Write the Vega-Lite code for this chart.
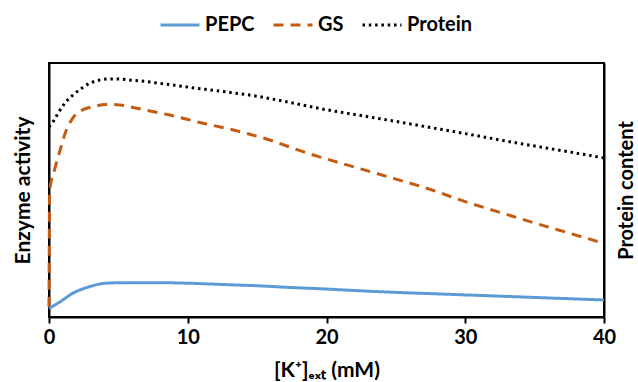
{
  "$schema": "https://vega.github.io/schema/vega-lite/v6.json",
  "width": 555,
  "height": 254,
  "autosize": "none",
  "padding": {"left": 49, "top": 63, "right": 34, "bottom": 65},
  "background": "white",
  "config": {
    "font": "Lato",
    "view": {"stroke": "black", "strokeWidth": 2},
    "axis": {"grid": false, "zindex": 1}
  },
  "data": {
    "values": [
      {"x": 0, "v": 3.4, "series": "PEPC"},
      {"x": 0.8, "v": 6.0, "series": "PEPC"},
      {"x": 1.7, "v": 9.3, "series": "PEPC"},
      {"x": 2.9, "v": 11.9, "series": "PEPC"},
      {"x": 4.1, "v": 13.3, "series": "PEPC"},
      {"x": 5.3, "v": 13.5, "series": "PEPC"},
      {"x": 6.5, "v": 13.5, "series": "PEPC"},
      {"x": 8, "v": 13.5, "series": "PEPC"},
      {"x": 10, "v": 13.3, "series": "PEPC"},
      {"x": 12.5, "v": 12.8, "series": "PEPC"},
      {"x": 15, "v": 12.3, "series": "PEPC"},
      {"x": 17.5, "v": 11.6, "series": "PEPC"},
      {"x": 20, "v": 11.0, "series": "PEPC"},
      {"x": 22.5, "v": 10.3, "series": "PEPC"},
      {"x": 25, "v": 9.7, "series": "PEPC"},
      {"x": 27.5, "v": 9.2, "series": "PEPC"},
      {"x": 30, "v": 8.7, "series": "PEPC"},
      {"x": 32.5, "v": 8.2, "series": "PEPC"},
      {"x": 35, "v": 7.7, "series": "PEPC"},
      {"x": 37.5, "v": 7.2, "series": "PEPC"},
      {"x": 40, "v": 6.7, "series": "PEPC"},
      {"x": 0, "v": 4, "series": "GS"},
      {"x": 0.05, "v": 50, "series": "GS"},
      {"x": 0.4, "v": 57.9, "series": "GS"},
      {"x": 0.8, "v": 65.7, "series": "GS"},
      {"x": 1.25, "v": 73.6, "series": "GS"},
      {"x": 1.7, "v": 78.2, "series": "GS"},
      {"x": 2.4, "v": 81.5, "series": "GS"},
      {"x": 3.2, "v": 82.8, "series": "GS"},
      {"x": 4.1, "v": 83.7, "series": "GS"},
      {"x": 5.1, "v": 83.5, "series": "GS"},
      {"x": 6.3, "v": 82.2, "series": "GS"},
      {"x": 8.7, "v": 79.5, "series": "GS"},
      {"x": 11.1, "v": 76.3, "series": "GS"},
      {"x": 13.3, "v": 73.6, "series": "GS"},
      {"x": 15.9, "v": 69.7, "series": "GS"},
      {"x": 18.3, "v": 65.1, "series": "GS"},
      {"x": 20.7, "v": 61.1, "series": "GS"},
      {"x": 22.6, "v": 58.1, "series": "GS"},
      {"x": 25, "v": 54.3, "series": "GS"},
      {"x": 27.5, "v": 50.2, "series": "GS"},
      {"x": 30, "v": 45.4, "series": "GS"},
      {"x": 32.5, "v": 41.2, "series": "GS"},
      {"x": 35, "v": 37.0, "series": "GS"},
      {"x": 37.5, "v": 33.0, "series": "GS"},
      {"x": 40, "v": 29.0, "series": "GS"},
      {"x": 0, "v": 74.8, "series": "Protein"},
      {"x": 0.3, "v": 76.9, "series": "Protein"},
      {"x": 0.65, "v": 80.2, "series": "Protein"},
      {"x": 1.13, "v": 84.1, "series": "Protein"},
      {"x": 1.73, "v": 87.4, "series": "Protein"},
      {"x": 2.34, "v": 90.0, "series": "Protein"},
      {"x": 2.93, "v": 92.0, "series": "Protein"},
      {"x": 3.66, "v": 93.3, "series": "Protein"},
      {"x": 4.25, "v": 93.7, "series": "Protein"},
      {"x": 5, "v": 93.7, "series": "Protein"},
      {"x": 5.8, "v": 93.3, "series": "Protein"},
      {"x": 6.5, "v": 93.0, "series": "Protein"},
      {"x": 8, "v": 92.0, "series": "Protein"},
      {"x": 10, "v": 90.5, "series": "Protein"},
      {"x": 12.5, "v": 88.8, "series": "Protein"},
      {"x": 15, "v": 86.9, "series": "Protein"},
      {"x": 17.5, "v": 84.3, "series": "Protein"},
      {"x": 20, "v": 81.6, "series": "Protein"},
      {"x": 22.5, "v": 79.3, "series": "Protein"},
      {"x": 25, "v": 77.0, "series": "Protein"},
      {"x": 27.5, "v": 74.6, "series": "Protein"},
      {"x": 30, "v": 72.2, "series": "Protein"},
      {"x": 32.5, "v": 69.7, "series": "Protein"},
      {"x": 35, "v": 67.3, "series": "Protein"},
      {"x": 37.5, "v": 65.0, "series": "Protein"},
      {"x": 40, "v": 62.6, "series": "Protein"}
    ]
  },
  "encoding": {
    "x": {
      "field": "x",
      "type": "quantitative",
      "scale": {"domain": [0, 40], "nice": false, "zero": false},
      "axis": {
        "values": [0, 10, 20, 30, 40],
        "title": "[K⁺]ₑₓₜ (mM)",
        "titleFont": "Lato",
        "titleFontSize": 21,
        "titleFontWeight": "bold",
        "titleColor": "black",
        "titlePadding": 12,
        "labelFont": "Lato",
        "labelFontSize": 20,
        "labelFontWeight": "bold",
        "labelColor": "black",
        "labelPadding": 4,
        "labelFlush": false,
        "domainColor": "black",
        "domainWidth": 2,
        "tickColor": "black",
        "tickWidth": 2,
        "tickSize": 6
      }
    },
    "color": {
      "field": "series",
      "type": "nominal",
      "scale": {"domain": ["PEPC", "GS", "Protein"], "range": ["#5B9BD5", "#C55A11", "#000000"]},
      "legend": {
        "orient": "none",
        "legendX": 110,
        "legendY": -59,
        "direction": "horizontal",
        "title": null,
        "labelFont": "Lato",
        "labelFontSize": 20,
        "labelFontWeight": "bold",
        "labelColor": "black",
        "labelOffset": 4,
        "symbolType": "stroke",
        "symbolSize": 1521,
        "symbolStrokeWidth": 3,
        "columnPadding": 12
      }
    },
    "strokeDash": {
      "field": "series",
      "type": "nominal",
      "scale": {"domain": ["PEPC", "GS", "Protein"], "range": [[1, 0], [10, 7], [2.5, 3.8]]}
    }
  },
  "layer": [
    {
      "transform": [{"filter": "datum.series !== 'Protein'"}],
      "mark": {"type": "line", "strokeWidth": 3, "interpolate": "monotone"},
      "encoding": {
        "y": {
          "field": "v",
          "type": "quantitative",
          "scale": {"domain": [0, 100], "nice": false},
          "axis": {
            "orient": "left",
            "title": "Enzyme activity",
            "titleFont": "Lato",
            "titleFontSize": 21,
            "titleFontWeight": "bold",
            "titleColor": "black",
            "titlePadding": 16,
            "labels": false,
            "ticks": false,
            "domainColor": "black",
            "domainWidth": 2
          }
        }
      }
    },
    {
      "transform": [{"filter": "datum.series === 'Protein'"}],
      "mark": {"type": "line", "strokeWidth": 3, "interpolate": "monotone"},
      "encoding": {
        "y": {
          "field": "v",
          "type": "quantitative",
          "scale": {"domain": [0, 100], "nice": false},
          "axis": {
            "orient": "right",
            "title": "Protein content",
            "titleAngle": 270,
            "titleBaseline": "top",
            "titleFont": "Lato",
            "titleFontSize": 20,
            "titleFontWeight": "bold",
            "titleColor": "black",
            "titlePadding": 12,
            "labels": false,
            "ticks": false,
            "domainColor": "black",
            "domainWidth": 2
          }
        }
      }
    }
  ],
  "resolve": {"axis": {"y": "independent"}}
}
